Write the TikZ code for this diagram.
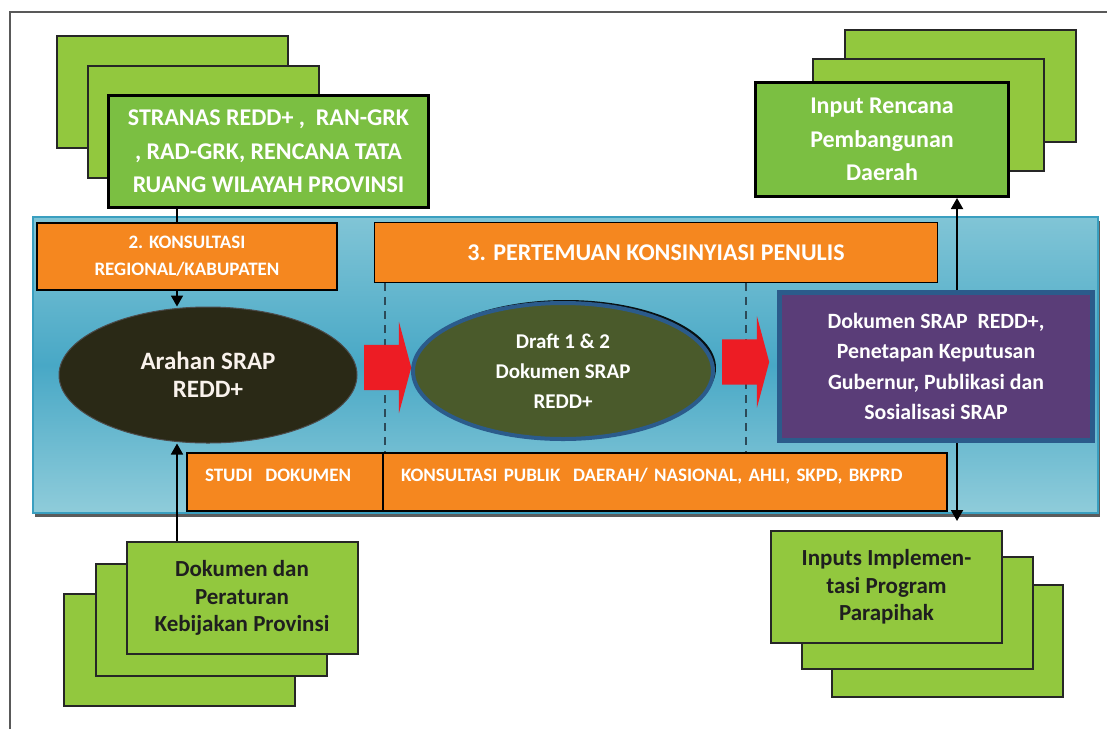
\documentclass[tikz,border=0pt]{standalone}
\usepackage{fontspec}
\setmainfont{Carlito}
\usepackage{xcolor}
\usepackage{tikz}
\usetikzlibrary{shapes.geometric, shapes.arrows, arrows.meta, shadows}

\definecolor{leafgreen}{HTML}{92C83E}
\definecolor{darkleaf}{HTML}{7BBF42}
\definecolor{barorange}{HTML}{F5871F}
\definecolor{bandblue}{HTML}{48A8C6}
\definecolor{bandlight}{HTML}{8FCCDA}
\definecolor{bandedge}{HTML}{3A9FC0}
\definecolor{olivefill}{HTML}{4A5A2B}
\definecolor{tarfill}{HTML}{2A2916}
\definecolor{plumfill}{HTML}{5A3D78}
\definecolor{navyedge}{HTML}{2B5B8B}
\definecolor{blockred}{HTML}{ED1C24}
\definecolor{dashgray}{HTML}{2C4A58}

\tikzstyle{sheet} = [rectangle, draw=black!85, line width=2pt, fill=leafgreen, minimum width=231pt, minimum height=112pt]
\tikzstyle{frontsheet} = [rectangle, draw=black, line width=3pt, fill=darkleaf, text=white, align=center, font=\fontsize{24}{33.5}\selectfont\bfseries]
\tikzstyle{docsheet} = [sheet, text=black!88, align=center, font=\fontsize{23}{27.5}\selectfont\bfseries]
\tikzstyle{orangebar} = [rectangle, draw=black, line width=1.5pt, fill=barorange, text=white, align=center]
\tikzstyle{blockarrow} = [single arrow, fill=blockred, inner xsep=0pt, inner ysep=22.5pt, single arrow head extend=23pt, single arrow tip angle=150, minimum height=47pt, anchor=tail]
\tikzstyle{arrow} = [line width=1.8pt, -{Triangle[width=12pt,length=11pt]}]
\tikzstyle{divider} = [dashgray, line width=2.5pt, dash pattern=on 8pt off 6pt]

\begin{document}
\begin{tikzpicture}[x=1pt, y=-1pt]
    \useasboundingbox (0,0) rectangle (1107,729);
    \fill[white] (0,0) rectangle (1107,729);
    \draw[line width=2pt, black!65] (10,729) -- (10,12) -- (1107,12);

    % input stacks
    \node (tlC) [sheet] at (172.5,91.5) {};
    \node (tlB) [sheet] at (203,121.5) {};
    \node (tl) [frontsheet, minimum width=320pt, minimum height=112pt] at (268.5,151.5) {STRANAS REDD+ ,\ \ RAN-GRK\\, RAD-GRK, RENCANA TATA\\RUANG WILAYAH PROVINSI};

    \node (trC) [sheet] at (960.5,86) {};
    \node (trB) [sheet] at (928.5,115) {};
    \node (tr) [frontsheet, minimum width=253pt, minimum height=114pt] at (882,139.5) {Input Rencana\\Pembangunan\\Daerah};

    \node (blC) [sheet] at (179.5,650) {};
    \node (blB) [sheet] at (211.5,619.5) {};
    \node (bl) [docsheet] at (242,598) {Dokumen dan\\Peraturan\\Kebijakan Provinsi};

    \node (brC) [sheet] at (947,640.5) {};
    \node (brB) [sheet] at (917,612.5) {};
    \node (br) [docsheet] at (886.5,587) {Inputs Implemen-\\tasi Program\\Parapihak};

    % process band
    \node (band) [rectangle, draw=bandedge, line width=1.5pt, top color=bandlight!80!bandblue, bottom color=bandlight, middle color=bandblue, minimum width=1065pt, minimum height=296pt, drop shadow={shadow xshift=2pt, shadow yshift=-4pt, fill=black!75, opacity=.85}] at (565.5,365) {};

    \node (arahan) [ellipse, fill=tarfill, draw=black!70, line width=1pt, minimum width=298pt, minimum height=136pt, text=white!90!brown, align=center, font=\fontsize{25}{28}\selectfont\bfseries] at (208,375) {Arahan SRAP\\REDD+};
    \node (draft) [ellipse, fill=olivefill, draw=navyedge, line width=4pt, minimum width=300pt, minimum height=136pt, text=white, align=center, font=\fontsize{21}{30}\selectfont\bfseries, drop shadow={shadow xshift=3pt, shadow yshift=3pt, fill=black, opacity=.9}] at (563,371) {Draft 1 \& 2\\Dokumen SRAP\\REDD+};
    \node (srap) [rectangle, fill=plumfill, draw=navyedge, line width=5pt, minimum width=313pt, minimum height=148pt, text=white, align=center, font=\fontsize{21.8}{30.5}\selectfont\bfseries] at (936,366.5) {Dokumen SRAP\ \ REDD+,\\Penetapan Keputusan\\Gubernur, Publikasi dan\\Sosialisasi SRAP};

    \coordinate (ax) at (177,0);
    \coordinate (bx) at (957,0);
    \coordinate (d1) at (385,0);
    \coordinate (d2) at (746,0);

    \draw [arrow] (tl.south -| ax) -- (arahan.north -| ax);

    \node (konsul) [orangebar, minimum width=300pt, minimum height=67pt, font=\fontsize{19}{27}\selectfont\bfseries] at (187,256.5) {2. KONSULTASI\\REGIONAL/KABUPATEN};
    \node (konsin) [orangebar, minimum width=563pt, minimum height=60pt, font=\fontsize{24}{28}\selectfont\bfseries] at (656,252.5) {3. PERTEMUAN KONSINYIASI PENULIS};
    \node (studi) [orangebar, align=left, inner xsep=18pt, text width=160pt, text height=13pt, text depth=15pt, minimum height=58pt, font=\fontsize{19}{23}\selectfont\bfseries] at (285,482) {STUDI\ \ DOKUMEN};
    \node (publik) [orangebar, align=left, inner xsep=18pt, text width=528pt, text height=13pt, text depth=15pt, minimum height=58pt, font=\fontsize{19}{23}\selectfont\bfseries] at (665,482) {KONSULTASI PUBLIK\ \ DAERAH/ NASIONAL, AHLI, SKPD, BKPRD};

    \draw [divider] (konsin.south -| d1) -- (publik.north -| d1);
    \draw [divider] (konsin.south -| d2) -- (publik.north -| d2);

    \node (redA) [blockarrow] at (364,367.5) {};
    \node (redB) [blockarrow] at (722,362) {};

    \draw [arrow] (bl.north -| ax) -- (arahan.south -| ax);
    \draw [arrow] (srap.north -| bx) -- (tr.south -| bx);
    \draw [arrow, shorten >=9pt] (srap.south -| bx) -- (br.north -| bx);
\end{tikzpicture}
\end{document}
